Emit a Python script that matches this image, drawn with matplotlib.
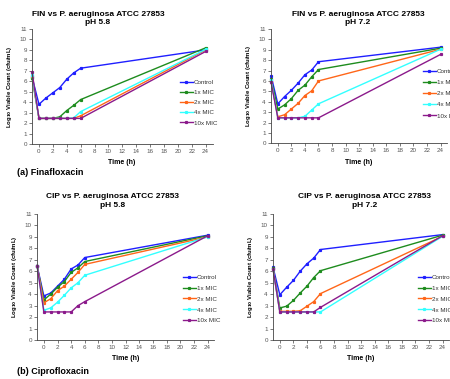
import matplotlib
matplotlib.use("Agg")
import matplotlib.pyplot as plt

plt.rcParams['font.family'] = ['Liberation Sans', 'DejaVu Sans']

# sampling times (h)
t = [-1, 0, 1, 2, 3, 4, 5, 6, 24]
labels = ["Control", "1x MIC", "2x MIC", "4x MIC", "10x MIC"]
colors = ["#1f1fff", "#1e8c1e", "#ff6619", "#33ffff", "#8b1a8b"]

# log10 viable counts, FIN pH 5.8
fin58_ctrl = [6.4, 3.8, 4.4, 4.9, 5.4, 6.2, 6.8, 7.25, 9.0]
fin58_1x = [6.3, 2.45, 2.45, 2.45, 2.6, 3.2, 3.7, 4.25, 9.2]
fin58_2x = [6.5, 2.45, 2.45, 2.45, 2.45, 2.45, 2.45, 2.7, 9.0]
fin58_4x = [6.6, 2.45, 2.45, 2.45, 2.45, 2.45, 2.5, 3.1, 9.05]
fin58_10x = [6.9, 2.45, 2.45, 2.45, 2.45, 2.45, 2.45, 2.45, 8.85]

# FIN pH 7.2
fin72_ctrl = [6.5, 3.8, 4.5, 5.1, 5.8, 6.6, 7.05, 7.85, 9.25]
fin72_1x = [6.2, 3.3, 3.7, 4.3, 5.1, 5.6, 6.4, 7.1, 9.15]
fin72_2x = [6.0, 2.55, 2.75, 3.3, 3.85, 4.6, 5.05, 6.0, 9.05]
fin72_4x = [6.1, 2.45, 2.45, 2.45, 2.45, 2.6, 3.2, 3.8, 9.05]
fin72_10x = [5.9, 2.45, 2.45, 2.45, 2.45, 2.45, 2.45, 2.45, 8.55]

# CIP pH 5.8
cip58_ctrl = [6.5, 3.85, 4.1, 4.7, 5.3, 6.2, 6.55, 7.2, 9.15]
cip58_1x = [6.5, 3.5, 4.0, 4.6, 5.1, 5.9, 6.3, 6.85, 9.1]
cip58_2x = [6.5, 3.25, 3.6, 4.3, 4.7, 5.3, 5.9, 6.6, 9.0]
cip58_4x = [6.5, 2.6, 2.8, 3.3, 3.9, 4.55, 5.0, 5.65, 9.0]
cip58_10x = [6.5, 2.45, 2.45, 2.45, 2.45, 2.45, 3.0, 3.35, 9.1]

# CIP pH 7.2
cip72_ctrl = [6.35, 3.95, 4.6, 5.2, 6.0, 6.65, 7.15, 7.9, 9.2]
cip72_1x = [6.3, 2.8, 2.95, 3.45, 4.1, 4.7, 5.45, 6.05, 9.15]
cip72_2x = [6.2, 2.5, 2.5, 2.5, 2.55, 2.95, 3.35, 4.05, 9.05]
cip72_4x = [6.2, 2.45, 2.45, 2.45, 2.45, 2.45, 2.45, 2.45, 9.05]
cip72_10x = [6.2, 2.45, 2.45, 2.45, 2.45, 2.45, 2.45, 2.85, 9.1]

titles = ["FIN vs P. aeruginosa ATCC 27853\npH 5.8",
          "FIN vs P. aeruginosa ATCC 27853\npH 7.2",
          "CIP vs P. aeruginosa ATCC 27853\npH 5.8",
          "CIP vs P. aeruginosa ATCC 27853\npH 7.2"]

panels = [
    [fin58_ctrl, fin58_1x, fin58_2x, fin58_4x, fin58_10x],
    [fin72_ctrl, fin72_1x, fin72_2x, fin72_4x, fin72_10x],
    [cip58_ctrl, cip58_1x, cip58_2x, cip58_4x, cip58_10x],
    [cip72_ctrl, cip72_1x, cip72_2x, cip72_4x, cip72_10x],
]

W, H = 450, 379
fig = plt.figure(figsize=(4.5, 3.79), dpi=100)

# axes boxes in pixels: left, top(y=11), right, bottom(y=0)
boxes = [(31.7, 29, 212.6, 144),
         (270.7, 29, 447.3, 143.3),
         (36.7, 214, 214.4, 340),
         (272.7, 214, 449.3, 340)]
# title centers (px), legend anchor (px), legend row spacing
title_pos = [(98, 18.5), (358, 18.5), (113, 201), (365, 201)]
leg_pos = [(180, 79.7), (423, 68.7), (183, 274.5), (418, 274.5)]
leg_space = [0.76, 0.92, 0.88, 0.88]

for k in range(4):
    l, tp, r, b = boxes[k]
    ax = fig.add_axes([l / W, 1 - b / H, (r - l) / W, (b - tp) / H])
    for series, c, lab in zip(panels[k], colors, labels):
        ax.plot(t, series, color=c, lw=1.0, marker='s', ms=1.3, label=lab, clip_on=False)
    ax.set_xlim(-1.05, 25)
    ax.set_ylim(0, 11)
    ax.set_xticks(range(0, 25, 2))
    ax.set_yticks(range(0, 12))
    for s in ['top', 'right']:
        ax.spines[s].set_visible(False)
    for s in ['left', 'bottom']:
        ax.spines[s].set_color('#444444')
        ax.spines[s].set_linewidth(0.6)
    ax.tick_params(labelsize=4.5, labelcolor='#555555', length=2, width=0.5,
                   color='#444444', pad=1.5)
    ax.set_xlabel("Time (h)", fontsize=5, fontweight='bold', labelpad=4)
    ax.set_ylabel("Log$_{\\mathbf{10}}$ Viable Count (cfu/mL)", fontsize=4.3,
                  fontweight='bold', labelpad=4)
    fig.text(title_pos[k][0] / W, 1 - title_pos[k][1] / H, titles[k], ha='center',
             va='center', fontsize=6, fontweight='bold', linespacing=1.35)
    leg = ax.legend(loc='upper left', bbox_to_anchor=(leg_pos[k][0] / W, 1 - leg_pos[k][1] / H),
                    bbox_transform=fig.transFigure, frameon=False, fontsize=4.5,
                    handlelength=2.0, handletextpad=0.25, labelspacing=leg_space[k],
                    borderpad=0, borderaxespad=0)
    for txt in leg.get_texts():
        txt.set_color('#333333')

fig.text(17 / W, 1 - 172.7 / H, "(a) Finafloxacin", fontsize=6.5, fontweight='bold', va='center')
fig.text(17 / W, 1 - 372 / H, "(b) Ciprofloxacin", fontsize=6.5, fontweight='bold', va='center')

fig.savefig("out.png", dpi=100)
